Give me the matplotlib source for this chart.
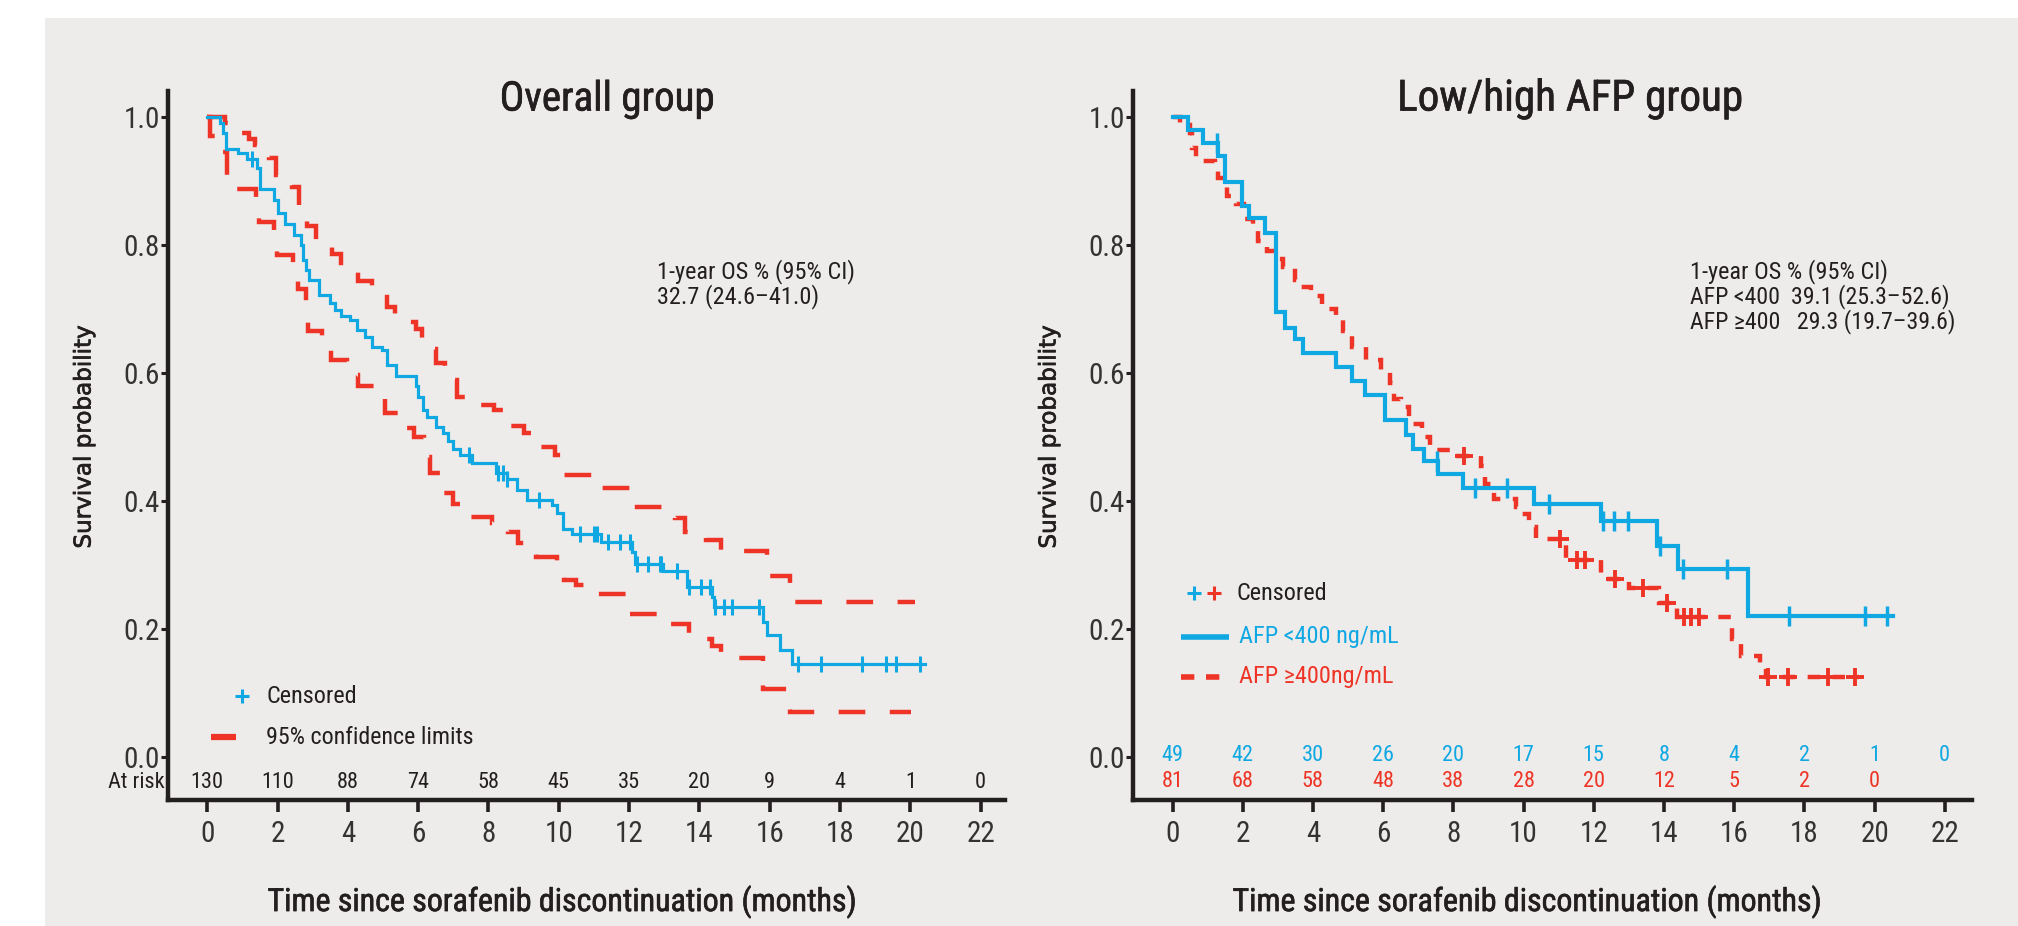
import os
import matplotlib
matplotlib.use('Agg')
import matplotlib.pyplot as plt
import matplotlib.patheffects as pe
from matplotlib import font_manager
from matplotlib.font_manager import FontProperties
from matplotlib.patches import Rectangle

W, H = 2018, 926

# ---- valores ----
months = list(range(0, 23, 2))

# grupo total: escalones Kaplan-Meier (mes, supervivencia tras el escalon)
all_t = [0, 0.36, 0.45, 0.54, 0.87, 1.12, 1.41, 1.49, 1.89, 2.0,
         2.22, 2.48, 2.67, 2.72, 2.8, 2.9, 3.19, 3.5, 3.64, 3.8,
         4.05, 4.25, 4.49, 4.68, 4.97, 5.1, 5.36, 5.94, 6.0, 6.15,
         6.25, 6.5, 6.7, 6.85, 7.0, 7.2, 7.52, 8.21, 8.52,
         8.8, 9.09, 9.8, 9.94, 10.11, 10.37, 11.2, 12.07, 12.17, 12.97,
         13.65, 14.35, 14.41, 15.81, 15.93, 16.29, 16.62]
all_s = [1.0, 0.99, 0.975, 0.95, 0.943, 0.935, 0.92, 0.888, 0.87, 0.85,
         0.833, 0.816, 0.80, 0.777, 0.761, 0.745, 0.722, 0.709, 0.698, 0.689,
         0.683, 0.667, 0.656, 0.641, 0.636, 0.612, 0.595, 0.58, 0.563, 0.542,
         0.532, 0.516, 0.506, 0.493, 0.482, 0.472, 0.46, 0.443, 0.435,
         0.417, 0.402, 0.394, 0.381, 0.357, 0.349, 0.336, 0.32, 0.302, 0.29,
         0.265, 0.25, 0.234, 0.211, 0.191, 0.167, 0.145]
all_end = 20.41
all_cens = [1.27, 7.45, 8.28, 8.42, 8.52, 9.45, 10.6, 11.0, 11.1, 11.41,
            11.74, 12.03, 12.21, 12.55, 12.88, 12.92, 13.35, 13.71, 14.04,
            14.3, 14.44, 14.71, 14.94, 15.7, 16.81, 17.45, 18.61, 19.3,
            19.58, 20.27]

# limites de confianza 95%
up_t = [0, 0.5, 0.9, 1.2, 1.35, 1.75, 1.95, 2.4, 2.6, 2.85,
        3.1, 3.55, 3.8, 4.3, 4.7, 5.1, 5.35, 5.95, 6.1, 6.5,
        6.75, 7.1, 7.6, 8.15, 8.5, 9.0, 9.4, 9.9, 10.15, 11.15,
        12.05, 13.3, 13.6, 14.2, 14.6, 15.91, 16.57]
up_s = [1.0, 0.99, 0.975, 0.965, 0.956, 0.936, 0.91, 0.89, 0.86, 0.83,
        0.805, 0.786, 0.761, 0.743, 0.725, 0.703, 0.68, 0.669, 0.637, 0.616,
        0.589, 0.563, 0.55, 0.542, 0.517, 0.506, 0.484, 0.472, 0.44, 0.421,
        0.39, 0.373, 0.352, 0.339, 0.322, 0.283, 0.242]
up_end = 20.13
lo_t = [0, 0.08, 0.45, 0.55, 0.84, 1.39, 1.46, 1.91, 1.98, 2.45,
        2.58, 2.8, 2.86, 3.26, 3.53, 3.97, 4.28, 4.73, 5.06, 5.44,
        5.89, 6.18, 6.34, 6.7, 7.0, 7.48, 8.09, 8.55, 8.85, 9.34,
        9.95, 10.15, 10.5, 11.0, 12.0, 12.95, 13.7, 14.35, 14.6, 15.8,
        16.57]
lo_s = [1.0, 0.97, 0.946, 0.909, 0.887, 0.871, 0.836, 0.814, 0.784, 0.756,
        0.732, 0.70, 0.666, 0.642, 0.62, 0.597, 0.58, 0.56, 0.537, 0.514,
        0.50, 0.468, 0.443, 0.413, 0.396, 0.375, 0.365, 0.352, 0.334, 0.312,
        0.29, 0.277, 0.269, 0.255, 0.223, 0.208, 0.185, 0.174, 0.154, 0.107,
        0.071]
lo_end = 20.03

at_risk_all = [130, 110, 88, 74, 58, 45, 35, 20, 9, 4, 1, 0]

# AFP < 400
low_t = [0, 0.45, 0.86, 1.3, 1.5, 1.97, 2.19, 2.64, 2.95, 3.2,
         3.49, 3.73, 4.66, 5.1, 5.48, 6.05, 6.65, 6.84, 7.17, 7.57,
         8.29, 10.3, 12.2, 13.79, 14.41, 16.4]
low_s = [1.0, 0.98, 0.959, 0.939, 0.898, 0.861, 0.842, 0.818, 0.696, 0.671,
         0.653, 0.631, 0.609, 0.588, 0.566, 0.527, 0.503, 0.481, 0.463, 0.442,
         0.42, 0.395, 0.368, 0.33, 0.293, 0.221]
low_end = 20.54
low_cens = [1.26, 7.53, 8.62, 9.52, 10.73, 12.27, 12.58, 12.99, 13.89,
            14.55, 15.81, 17.57, 19.73, 20.36]

# AFP >= 400
high_t = [0, 0.2, 0.5, 0.55, 0.67, 1.2, 1.3, 1.55, 1.8, 2.05,
          2.3, 2.45, 2.7, 2.9, 3.15, 3.5, 3.6, 3.95, 4.25, 4.65,
          4.85, 5.1, 5.5, 5.95, 6.2, 6.3, 6.5, 6.75, 7.1, 7.35,
          7.5, 8.0, 8.8, 8.9, 9.15, 9.8, 9.9, 10.15, 10.35, 11.2,
          12.2, 13.0, 13.85, 14.38, 15.93, 16.2, 16.75, 16.9]
high_s = [1.0, 0.988, 0.975, 0.951, 0.932, 0.92, 0.905, 0.877, 0.864, 0.84,
          0.827, 0.807, 0.79, 0.778, 0.765, 0.745, 0.735, 0.72, 0.70, 0.69,
          0.665, 0.64, 0.62, 0.605, 0.585, 0.56, 0.547, 0.52, 0.50, 0.488,
          0.479, 0.470, 0.455, 0.427, 0.403, 0.39, 0.38, 0.36, 0.34, 0.308,
          0.278, 0.264, 0.24, 0.218, 0.185, 0.158, 0.14, 0.125]
high_end = 19.55
high_cens = [8.3, 11.04, 11.52, 11.75, 12.6, 13.41, 14.1, 14.57, 14.76,
             15.01, 16.96, 17.54, 18.68, 19.44]

at_risk_low = [49, 42, 30, 26, 20, 17, 15, 8, 4, 2, 1, 0]
at_risk_high = [81, 68, 58, 48, 38, 28, 20, 12, 5, 2, 0]

# ---- estilo ----
AZUL = '#0fa8e3'
ROJO = '#ee3426'
TINTA = '#231f20'
FONDO = '#eeecea'

EXCLUIR = ['italic', 'oblique', 'extra', 'ultra', 'semi', 'light', 'thin',
           'black', 'heavy', 'bold', 'medium']


def buscar_estrecha():
    # busca una fuente estrecha instalada (tipo DIN condensada)
    preferidas = ['liberation sans narrow', 'roboto condensed',
                  'dejavu sans', 'noto sans', 'open sans']
    mejores = {}
    for f in font_manager.fontManager.ttflist:
        base = os.path.basename(f.fname).lower()
        nombre = f.name.lower()
        estrecha = ('narrow' in nombre or 'condensed' in nombre
                    or 'condensed' in base or 'narrow' in base
                    or str(f.stretch) in ('condensed', 'semi-condensed'))
        if not estrecha or f.style != 'normal':
            continue
        if any(e in base for e in EXCLUIR):
            continue
        for i, p in enumerate(preferidas):
            if nombre.startswith(p):
                mejores.setdefault(i, f.fname)
    if mejores:
        return mejores[min(mejores)]
    return None


RUTA = buscar_estrecha()
# trazo fino alrededor del texto para imitar un peso "medium"
MEDIO = [pe.withStroke(linewidth=0.45, foreground=TINTA)]


def fuente(size):
    if RUTA:
        return FontProperties(fname=RUTA, size=size)
    return FontProperties(family=['Liberation Sans', 'DejaVu Sans'],
                          size=size * 0.86)


def surv_at(t, times, surv):
    s = surv[0]
    for ti, si in zip(times, surv):
        if ti <= t:
            s = si
    return s


def escalon(ax, times, surv, end, **kw):
    ax.plot(times + [end], surv + [surv[-1]], drawstyle='steps-post', **kw)


def texto(ax, x, y, s, size, color=TINTA, **kw):
    ax.text(x, y, s, fontproperties=fuente(size), color=color,
            va='center', **kw)


def preparar_ejes(ax, px_x0, px_por_mes, izq, der):
    ax.set_xlim((izq - px_x0) / px_por_mes, (der - px_x0) / px_por_mes)
    ax.set_ylim((757 - 800) / 640, (757 - 91) / 640)
    ax.set_facecolor('none')
    for lado in ['top', 'right']:
        ax.spines[lado].set_visible(False)
    for lado in ['left', 'bottom']:
        ax.spines[lado].set_linewidth(3.2)
        ax.spines[lado].set_color(TINTA)
        ax.spines[lado].set_capstyle('projecting')
    ax.set_xticks(months)
    ax.set_yticks([0, 0.2, 0.4, 0.6, 0.8, 1.0])
    ax.set_yticklabels(['0.0', '0.2', '0.4', '0.6', '0.8', '1.0'])
    ax.tick_params(axis='y', direction='out', length=5, width=2.2, pad=1,
                   color=TINTA, labelcolor='#333333')
    ax.tick_params(axis='x', direction='out', length=8.5, width=2.6, pad=6,
                   color=TINTA, labelcolor='#333333')
    for lab in ax.get_xticklabels() + ax.get_yticklabels():
        lab.set_fontproperties(fuente(21))


fig = plt.figure(figsize=(W / 100, H / 100), dpi=100)
fig.patch.set_facecolor('white')
fig.patches.append(Rectangle((45 / W, 0), 1 - 45 / W, 1 - 18 / H,
                             transform=fig.transFigure, facecolor=FONDO,
                             edgecolor='none', zorder=-10))

ax1 = fig.add_axes([168 / W, 1 - 800 / H, (1005 - 168) / W, (800 - 91) / H])
ax2 = fig.add_axes([1133 / W, 1 - 800 / H, (1972 - 1133) / W, (800 - 91) / H])
preparar_ejes(ax1, 207.2, 35.16, 168, 1005)
preparar_ejes(ax2, 1172.5, 35.1, 1133, 1972)

# ---- panel izquierdo ----
escalon(ax1, up_t, up_s, up_end, color=ROJO, lw=3.2, ls=(0, (6, 5.5)),
        dash_joinstyle='miter')
escalon(ax1, lo_t, lo_s, lo_end, color=ROJO, lw=3.2, ls=(0, (6, 5.5)),
        dash_joinstyle='miter')
escalon(ax1, all_t, all_s, all_end, color=AZUL, lw=2.3,
        solid_joinstyle='miter')
ax1.plot(all_cens, [surv_at(c, all_t, all_s) for c in all_cens], ls='none',
         marker='|', ms=11, mew=2.2, color=AZUL)

texto(ax1, 11.38, 1.028, 'Overall group', 29.5, ha='center',
      path_effects=MEDIO)
texto(ax1, 12.8, 0.758, '1-year OS % (95% CI)', 17.5, ha='left')
texto(ax1, 12.8, 0.719, '32.7 (24.6–41.0)', 17.5, ha='left')

# leyenda
ax1.plot([0.99], [0.095], ls='none', marker='+', ms=10, mew=2.2, color=AZUL)
texto(ax1, 1.68, 0.095, 'Censored', 17.5, ha='left')
ax1.plot([0.1, 0.83], [0.031, 0.031], color=ROJO, lw=4.5,
         solid_capstyle='butt')
texto(ax1, 1.68, 0.031, '95% confidence limits', 17.3, ha='left')

# en riesgo
for m, n in zip(months, at_risk_all):
    texto(ax1, m, -0.04, str(n), 16, ha='center')
texto(ax1, -1.2, -0.04, 'At risk', 16, ha='right')

# ---- panel derecho ----
escalon(ax2, high_t, high_s, high_end, color=ROJO, lw=3.2,
        ls=(0, (2.8, 2.8)), dash_joinstyle='miter')
ax2.plot(high_cens, [surv_at(c, high_t, high_s) for c in high_cens],
         ls='none', marker='+', ms=13, mew=2.8, color=ROJO)
escalon(ax2, low_t, low_s, low_end, color=AZUL, lw=3.0,
        solid_joinstyle='miter')
ax2.plot(low_cens, [surv_at(c, low_t, low_s) for c in low_cens], ls='none',
         marker='|', ms=14, mew=2.5, color=AZUL)

texto(ax2, 11.32, 1.028, 'Low/high AFP group', 31, ha='center',
      path_effects=MEDIO)
texto(ax2, 14.74, 0.759, '1-year OS % (95% CI)', 17.5, ha='left')
texto(ax2, 14.74, 0.719, 'AFP <400  39.1 (25.3–52.6)', 17.2, ha='left')
texto(ax2, 14.74, 0.680, 'AFP ≥400   29.3 (19.7–39.6)', 17.2, ha='left')

# leyenda
ax2.plot([0.61], [0.256], ls='none', marker='+', ms=10, mew=2.2, color=AZUL)
ax2.plot([1.17], [0.256], ls='none', marker='+', ms=10, mew=2.2, color=ROJO)
texto(ax2, 1.81, 0.256, 'Censored', 17.5, ha='left')
ax2.plot([0.24, 1.6], [0.1875, 0.1875], color=AZUL, lw=4,
         solid_capstyle='butt')
texto(ax2, 1.9, 0.1875, 'AFP <400 ng/mL', 17.5, color=AZUL, ha='left')
ax2.plot([0.24, 1.6], [0.125, 0.125], color=ROJO, lw=4,
         ls=(0, (2.4, 2.1)))
texto(ax2, 1.9, 0.125, 'AFP ≥400ng/mL', 17.5, color=ROJO, ha='left')

# en riesgo
for m, n in zip(months, at_risk_low):
    texto(ax2, m, 0.002, str(n), 16, color=AZUL, ha='center')
for m, n in zip(months, at_risk_high):
    texto(ax2, m, -0.038, str(n), 16, color=ROJO, ha='center')

# etiquetas de ejes
etiqueta_x = 'Time since sorafenib discontinuation (months)'
for xp in [563, 1528]:
    fig.text(xp / W, 1 - 902 / H, etiqueta_x, ha='center', va='center',
             fontproperties=fuente(23), color=TINTA, path_effects=MEDIO)
for xp in [84, 1049]:
    fig.text(xp / W, 1 - 437 / H, 'Survival probability', ha='center',
             va='center', rotation=90, fontsize=16.6,
             family='DejaVu Sans', color=TINTA,
             path_effects=[pe.withStroke(linewidth=0.5, foreground=TINTA)])

fig.savefig('out.png', dpi=100, facecolor=fig.get_facecolor())
